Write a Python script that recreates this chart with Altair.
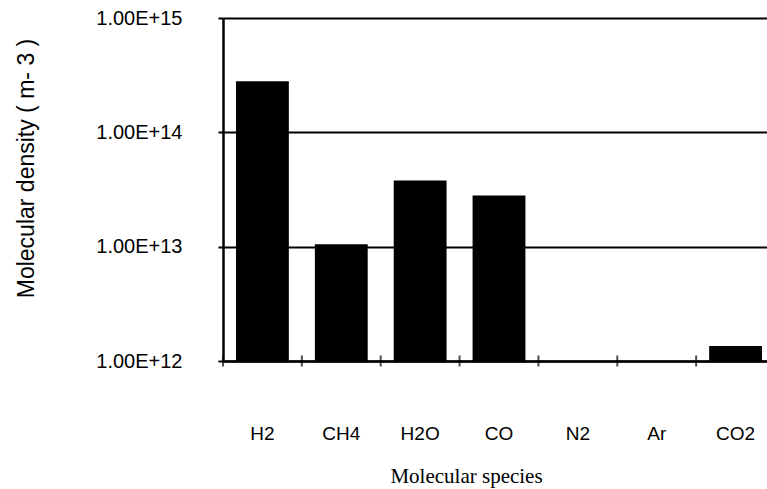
import altair as alt
import pandas as pd

species = ["H2", "CH4", "H2O", "CO", "N2", "Ar", "CO2"]
density = [2.8e14, 1.05e13, 3.8e13, 2.8e13, None, None, 1.35e12]
y_ticks = [1e12, 1e13, 1e14, 1e15]

df = pd.DataFrame({"species": species, "density": density})

W, H = 544, 343
FULL_W = 552

xscale = alt.Scale(domain=species, range=[0, FULL_W], paddingInner=0, paddingOuter=0)
yscale = alt.Scale(type="log", domain=[1e12, 1e15])

label_expr = ("format(datum.value / pow(10, round(log(datum.value) / LN10)), '.2f')"
              " + 'E+' + round(log(datum.value) / LN10)")

bars = alt.Chart(df).mark_bar(color="black", width=alt.RelativeBandSize(0.67)).encode(
    x=alt.X("species:N", scale=xscale, sort=species,
            axis=alt.Axis(title="Molecular species", labelAngle=0, labelFont="Liberation Sans",
                          labelFontSize=19, labelColor="black", labelPadding=63,
                          ticks=False,
                          domainColor="black", domainWidth=2.5,
                          titleFont="Liberation Serif", titleFontSize=21, titleFontWeight="normal",
                          titleColor="black", titleX=243, titleY=121, titleBaseline="alphabetic")),
    y=alt.Y("density:Q", scale=yscale,
            axis=alt.Axis(title="Molecular density ( m- 3 )", values=y_ticks, labelExpr=label_expr,
                          labelFont="Liberation Sans", labelFontSize=20, labelColor="black",
                          labelPadding=36, tickColor="black", tickWidth=2, tickSize=5,
                          domainColor="black", domainWidth=2.5,
                          grid=True, gridColor="black", gridWidth=2,
                          titleFont="Liberation Sans", titleFontSize=23, titleFontWeight="normal",
                          titleColor="black", titleX=-190, titleY=150, titleBaseline="alphabetic")),
    y2=alt.datum(1e12),
)

cross_ticks = alt.Chart(df).mark_tick(color="black", orient="vertical", size=11, thickness=2).encode(
    x=alt.X("species:N", scale=xscale, sort=species, bandPosition=0),
    y=alt.datum(1e12),
)

chart = alt.layer(bars, cross_ticks).properties(
    width=W, height=H,
    autosize=alt.AutoSizeParams(type="none"),
    padding={"left": 223, "top": 18, "right": 0, "bottom": 128},
    background="white",
).configure_view(stroke=None)

chart.save("out.html", embed_options={"renderer": "svg", "actions": False})
